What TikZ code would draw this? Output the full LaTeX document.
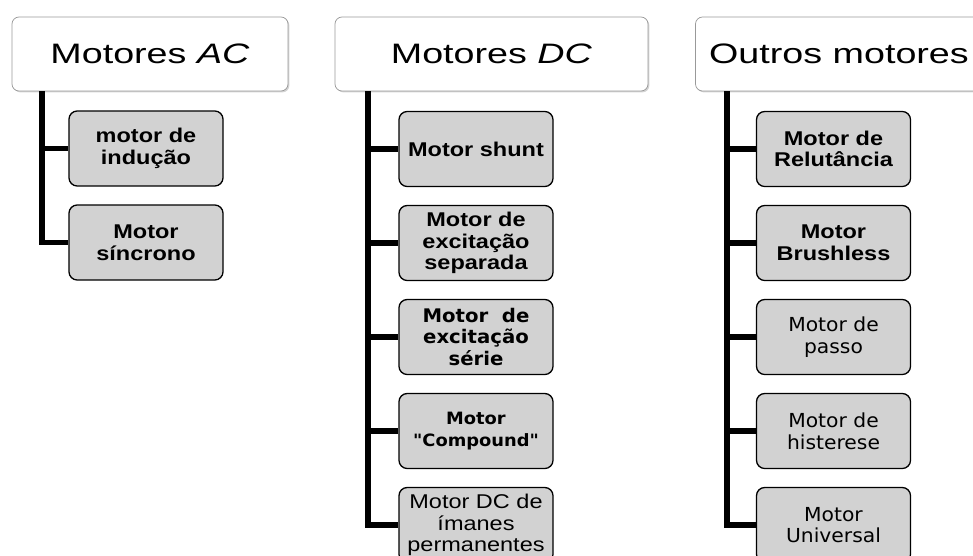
\documentclass[tikz,border=0pt]{standalone}
\usepackage{fontspec}
\setmainfont{Liberation Sans}
\newfontfamily\headfont[FakeStretch=1.34]{Liberation Sans}
\newfontfamily\boxfont[FakeStretch=1.18]{Liberation Sans}
\newfontfamily\gothfont[FakeStretch=1.05]{DejaVu Sans}
\usetikzlibrary{shadows}

\begin{document}
\begin{tikzpicture}[x=0.03cm,y=-0.03cm]
    \tikzset{
        group/.style={draw=gray!80, fill=white, rounded corners=6pt, line width=0.6pt,
            drop shadow={shadow xshift=1.2pt, shadow yshift=-1.2pt, opacity=0.35},
            minimum height=2.22cm, font=\headfont\fontsize{24}{28}\selectfont},
        kind/.style={draw=black, fill=gray!35, rounded corners=7pt, line width=1.1pt,
            minimum width=4.62cm, minimum height=2.25cm, align=center, inner sep=2pt,
            font=\boxfont\bfseries\fontsize{17}{18.5}\selectfont},
        plainkind/.style={font=\boxfont\fontsize{17}{18.5}\selectfont},
        gothkind/.style={font=\gothfont\fontsize{16.5}{18.5}\selectfont},
        gothbold/.style={font=\gothfont\bfseries\fontsize{16}{18.5}\selectfont},
        spine/.style={line width=4.3pt, line join=miter}
    }
    \useasboundingbox (0,0) rectangle (973,556);

    % group headers
    \node[group, minimum width=8.28cm] (ac) at (150,54) {Motores \textit{AC}};
    \node[group, minimum width=9.39cm] (dc) at (491.5,54) {Motores \textit{DC}};
    \node[group, minimum width=8.61cm] (ot) at (839,54) {Outros motores};

    % AC motors
    \node[kind] (ac1) at (146,148.5) {motor de\\indução};
    \node[kind] (ac2) at (146,242.5) {Motor\\síncrono};

    % DC motors
    \node[kind] (dc1) at (476,149) {Motor shunt};
    \node[kind] (dc2) at (476,243) {Motor de\\excitação\\separada};
    \node[kind, gothbold] (dc3) at (476,337) {Motor\ \ de\\excitação\\série};
    \node[kind, gothbold, font=\gothfont\bfseries\fontsize{14.5}{18.5}\selectfont]
        (dc4) at (476,431) {Motor\\"Compound"};
    \node[kind, plainkind] (dc5) at (476,525) {Motor DC de\\ímanes\\permanentes};

    % other motors
    \node[kind] (ot1) at (833.5,149) {Motor de\\Relutância};
    \node[kind] (ot2) at (833.5,243) {Motor\\Brushless};
    \node[kind, gothkind] (ot3) at (833.5,337) {Motor de\\passo};
    \node[kind, gothkind] (ot4) at (833.5,431) {Motor de\\histerese};
    \node[kind, gothkind] (ot5) at (833.5,525) {Motor\\Universal};

    % spines
    \coordinate (acs) at (42,91);
    \coordinate (dcs) at (368,91);
    \coordinate (ots) at (727,91);

    \foreach \c in {ac1,ac2}
        \draw[spine] (acs) |- (\c.west);
    \foreach \c in {dc1,dc2,dc3,dc4,dc5}
        \draw[spine] (dcs) |- (\c.west);
    \foreach \c in {ot1,ot2,ot3,ot4,ot5}
        \draw[spine] (ots) |- (\c.west);
\end{tikzpicture}
\end{document}
